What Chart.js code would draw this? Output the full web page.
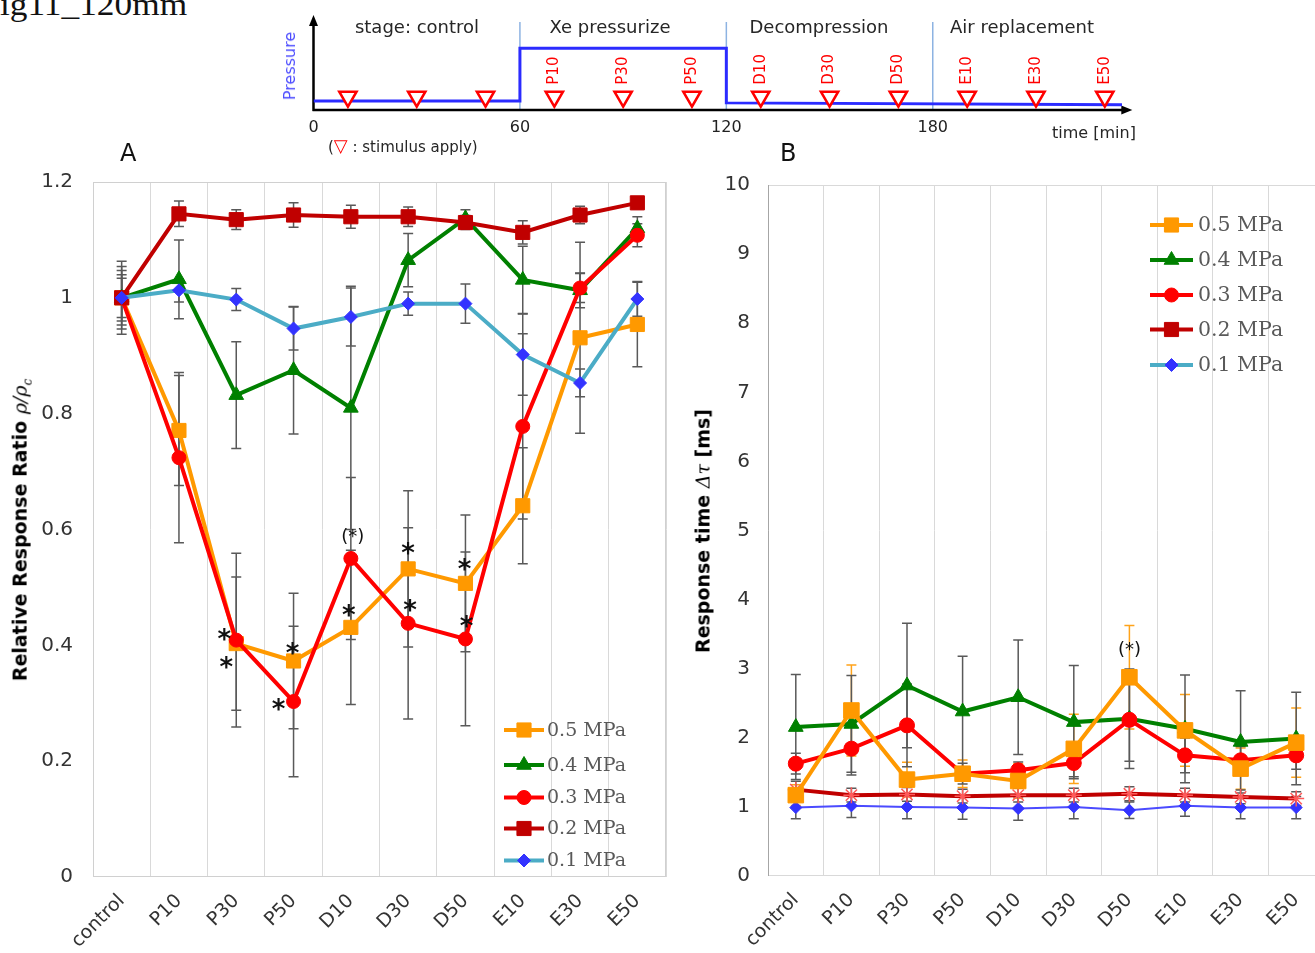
<!DOCTYPE html>
<html>
<head>
<meta charset="utf-8">
<script src="https://cdn.jsdelivr.net/npm/chart.js@4.4.1/dist/chart.umd.min.js"></script>
<style>
  html, body { margin: 0; padding: 0; background: #fff; }
  body { width: 1315px; height: 953px; overflow: hidden; position: relative; font-family: "DejaVu Sans", sans-serif; }
  canvas { position: absolute; }
  .lbl { position: absolute; white-space: nowrap; color: #262626; line-height: 1; }
  .c { transform: translate(-50%, -50%); }
  .rot { transform: translate(-50%, -50%) rotate(-90deg); }
  .ytitle { font-weight: bold; font-size: 19px; color: #000; }
  .m { font-family: "DejaVu Serif", serif; font-style: italic; font-weight: normal; }
</style>
</head>
<body>
<canvas id="stage" width="880" height="160" style="left:280px; top:0;"></canvas>
<canvas id="chartA" width="680" height="803" style="left:0; top:150px;"></canvas>
<canvas id="chartB" width="680" height="798" style="left:660px; top:155px;"></canvas>

<div class="lbl" style="left:0; top:-11px; font-family:'Liberation Serif',serif; font-size:31px; color:#111; transform:scaleX(1.14); transform-origin:0 0;">ig11_120mm</div>
<div class="lbl c" style="left:417px; top:27px; font-size:18px;">stage: control</div>
<div class="lbl c" style="left:610px; top:27px; font-size:18px;">Xe pressurize</div>
<div class="lbl c" style="left:819px; top:27px; font-size:18px;">Decompression</div>
<div class="lbl c" style="left:1022px; top:27px; font-size:18px;">Air replacement</div>
<div class="lbl rot" style="left:290px; top:66px; font-size:16px; color:#4d4dff;">Pressure</div>
<div class="lbl c" style="left:1094px; top:133px; font-size:16px;">time [min]</div>
<div class="lbl" style="left:328px; top:137px; font-size:15px;">(<span style="color:#ff0000; font-size:18px;">▽</span> : stimulus apply)</div>
<div class="lbl" style="left:120px; top:141px; font-size:24px; color:#111;">A</div>
<div class="lbl" style="left:780px; top:141px; font-size:24px; color:#111;">B</div>
<div class="lbl rot ytitle" style="left:22px; top:530px;">Relative Response Ratio <span class="m">ρ/ρ<sub style="font-size:12px;">c</sub></span></div>
<div class="lbl rot ytitle" style="left:703px; top:531px;">Response time <span class="m">Δτ</span> [ms]</div>

<script>
// ---- schematic timeline ----
const stageTimes = [10, 30, 50, 70, 90, 110, 130, 150, 170, 190, 210, 230];
const stageTags = ['', '', '', 'P10', 'P30', 'P50', 'D10', 'D30', 'D50', 'E10', 'E30', 'E50'];
const stimulusLevel = 14;
const pressureTime = [0, 60, 60, 120, 120, 235];
const pressureLevel = [9.5, 9.5, 65, 65, 7.5, 5.5];
const stageBounds = [60, 120, 180];
const timeTicks = [0, 60, 120, 180];

// ---- panels A and B ----
const categories = ['control', 'P10', 'P30', 'P50', 'D10', 'D30', 'D50', 'E10', 'E30', 'E50'];
const seriesNames = ['0.5 MPa', '0.4 MPa', '0.3 MPa', '0.2 MPa', '0.1 MPa'];

// A: relative response ratio
const ratio05 = [1.00, 0.771, 0.403, 0.373, 0.431, 0.532, 0.507, 0.641, 0.931, 0.954];
const ratio04 = [1.00, 1.032, 0.832, 0.875, 0.810, 1.065, 1.137, 1.031, 1.013, 1.120];
const ratio03 = [1.00, 0.724, 0.409, 0.303, 0.550, 0.438, 0.411, 0.778, 1.017, 1.108];
const ratio02 = [1.00, 1.145, 1.135, 1.143, 1.140, 1.140, 1.130, 1.113, 1.143, 1.164];
const ratio01 = [1.00, 1.013, 0.997, 0.947, 0.967, 0.990, 0.990, 0.902, 0.853, 0.998];
const ratio05Err = [0.054, 0.095, 0.115, 0.117, 0.133, 0.135, 0.118, 0.100, 0.165, 0.073];
const ratio04Err = [0.040, 0.068, 0.092, 0.110, 0.210, 0.046, 0.015, 0.058, 0.030, 0.020];
const ratio03Err = [0.063, 0.147, 0.150, 0.130, 0.140, 0.165, 0.150, 0.160, 0.025, 0.020];
const ratio02Err = [0.034, 0.022, 0.017, 0.021, 0.020, 0.017, 0.012, 0.020, 0.015, 0.010];
const ratio01Err = [0.047, 0.020, 0.019, 0.037, 0.050, 0.020, 0.034, 0.070, 0.024, 0.030];
const starCatA = [2, 2, 3, 3, 4, 4, 5, 5, 6, 6];
const starValA = [0.418, 0.369, 0.394, 0.296, 0.587, 0.458, 0.566, 0.467, 0.538, 0.439];
const starTextA = ['*', '*', '*', '*', '(*)', '*', '*', '*', '*', '*'];

// B: response time [ms]
const time05 = [1.17, 2.395, 1.395, 1.48, 1.375, 1.84, 2.876, 2.107, 1.554, 1.93];
const time04 = [2.155, 2.20, 2.756, 2.38, 2.587, 2.227, 2.275, 2.13, 1.94, 1.99];
const time03 = [1.626, 1.843, 2.18, 1.48, 1.53, 1.635, 2.26, 1.746, 1.674, 1.746];
const time02 = [1.25, 1.17, 1.18, 1.155, 1.17, 1.17, 1.19, 1.17, 1.145, 1.12];
const time01 = [0.99, 1.015, 1.0, 0.99, 0.977, 1.0, 0.952, 1.015, 0.99, 0.99];
const time05Err = [0.15, 0.66, 0.25, 0.2, 0.25, 0.5, 0.75, 0.52, 0.3, 0.5];
const time04Err = [0.76, 0.70, 0.90, 0.80, 0.83, 0.82, 0.72, 0.78, 0.74, 0.67];
const time03Err = [0.15, 0.38, 0.60, 0.15, 0.12, 0.2, 0.6, 0.25, 0.2, 0.2];
const time02Err = [0.12, 0.1, 0.1, 0.1, 0.1, 0.1, 0.1, 0.1, 0.1, 0.1];
const time01Err = [0.16, 0.17, 0.17, 0.17, 0.17, 0.17, 0.12, 0.15, 0.16, 0.16];
const starCatB = [6];
const starValB = [3.27];
const starTextB = ['(*)'];

Chart.defaults.font.family = '"DejaVu Sans", sans-serif';

// legend / marker look, same in both panels
const legendStyles = [
    {line: '#ff9900', fill: '#ff9900', shape: 'rect', r: 10},
    {line: '#008000', fill: '#008000', shape: 'triangle', r: 8.5},
    {line: '#ff0000', fill: '#ff0000', shape: 'circle', r: 7},
    {line: '#c00000', fill: '#c00000', shape: 'rect', r: 10},
    {line: '#4bacc6', fill: '#3333ff', shape: 'rectRot', r: 6.5}
];

function drawMarker(ctx, st, x, y) {
    ctx.save();
    ctx.fillStyle = st.fill;
    ctx.strokeStyle = st.fill;
    ctx.lineWidth = 1;
    Chart.helpers.drawPoint(ctx, {pointStyle: st.shape, radius: st.r, rotation: 0, borderWidth: 1}, x, y);
    ctx.restore();
}

const stagePlugin = {
    id: 'stage',
    beforeDatasetsDraw(chart) {
        const {ctx, chartArea: a, scales: {x}} = chart;
        ctx.save();
        // stage separators
        ctx.strokeStyle = '#8db3e2';
        ctx.lineWidth = 1.5;
        stageBounds.forEach(t => {
            const px = x.getPixelForValue(t);
            ctx.beginPath();
            ctx.moveTo(px, a.top + 7);
            ctx.lineTo(px, a.bottom);
            ctx.stroke();
        });
        // axes with arrow heads
        ctx.strokeStyle = '#000';
        ctx.fillStyle = '#000';
        ctx.lineWidth = 2.5;
        ctx.beginPath();
        ctx.moveTo(a.left, a.bottom + 1);
        ctx.lineTo(a.left, a.top + 8);
        ctx.moveTo(a.left - 1, a.bottom);
        ctx.lineTo(a.right - 8, a.bottom);
        ctx.stroke();
        ctx.beginPath();
        ctx.moveTo(a.left, a.top);
        ctx.lineTo(a.left - 4.5, a.top + 11);
        ctx.lineTo(a.left + 4.5, a.top + 11);
        ctx.closePath();
        ctx.fill();
        ctx.beginPath();
        ctx.moveTo(a.right, a.bottom);
        ctx.lineTo(a.right - 11, a.bottom - 4.5);
        ctx.lineTo(a.right - 11, a.bottom + 4.5);
        ctx.closePath();
        ctx.fill();
        ctx.restore();
    },
    afterDatasetsDraw(chart) {
        const {ctx, scales: {x, y}} = chart;
        ctx.save();
        ctx.fillStyle = '#ff0000';
        ctx.font = '15px "DejaVu Sans"';
        ctx.textAlign = 'left';
        ctx.textBaseline = 'middle';
        stageTags.forEach((tag, i) => {
            if (!tag) return;
            const px = x.getPixelForValue(stageTimes[i]);
            const py = y.getPixelForValue(stimulusLevel) - 12;
            ctx.save();
            ctx.translate(px, py);
            ctx.rotate(-Math.PI / 2);
            ctx.fillText(tag, 0, 0);
            ctx.restore();
        });
        ctx.restore();
    }
};

new Chart('stage', {
    type: 'scatter',
    data: {
        datasets: [{
            type: 'line',
            data: pressureTime.map((t, i) => ({x: t, y: pressureLevel[i]})),
            borderColor: '#2b2bff',
            borderWidth: 3,
            pointRadius: 0,
            order: 2
        }, {
            data: stageTimes.map(t => ({x: t, y: stimulusLevel})),
            pointStyle: 'triangle',
            rotation: 180,
            pointRadius: 10,
            borderColor: '#ff0000',
            backgroundColor: '#ffffff',
            borderWidth: 2.5,
            order: 1
        }]
    },
    options: {
        responsive: false,
        animation: false,
        events: [],
        layout: {padding: {left: 33.5, right: 27.7, top: 15, bottom: 0}},
        plugins: {legend: {display: false}, tooltip: {enabled: false}},
        scales: {
            x: {
                type: 'linear', min: 0, max: 238,
                afterBuildTicks: s => { s.ticks = timeTicks.map(v => ({value: v})); },
                afterFit: s => { s.height = 50; },
                grid: {display: false, drawTicks: false},
                border: {display: false},
                ticks: {font: {size: 16}, color: '#222', padding: 8, maxRotation: 0}
            },
            y: {display: false, min: 0, max: 100}
        }
    },
    plugins: [stagePlugin]
});

const panelPlugin = {
    id: 'panel',
    beforeDatasetsDraw(chart, args, o) {
        const {ctx, chartArea: a, scales: {x, y}} = chart;
        ctx.save();
        ctx.lineWidth = 1;
        ctx.strokeStyle = o.frame;
        ctx.strokeRect(a.left + 0.5, a.top + 0.5, a.width - 1, a.height - 1);
        if (o.axis) {
            ctx.strokeStyle = o.axis;
            ctx.beginPath();
            ctx.moveTo(a.left + 0.5, a.top);
            ctx.lineTo(a.left + 0.5, a.bottom);
            ctx.stroke();
        }
        // error bars
        ctx.lineWidth = 1.5;
        chart.data.datasets.forEach(ds => {
            ctx.strokeStyle = ds.errColor;
            ds.data.forEach((v, i) => {
                const px = x.getPixelForValue(i);
                const top = y.getPixelForValue(v + ds.err[i]);
                const bot = y.getPixelForValue(v - ds.err[i]);
                ctx.beginPath();
                ctx.moveTo(px, top);
                ctx.lineTo(px, bot);
                ctx.moveTo(px - 5, top);
                ctx.lineTo(px + 5, top);
                ctx.moveTo(px - 5, bot);
                ctx.lineTo(px + 5, bot);
                ctx.stroke();
            });
        });
        ctx.restore();
    },
    afterDatasetsDraw(chart, args, o) {
        const {ctx, scales: {x, y}} = chart;
        ctx.save();
        ctx.fillStyle = '#111';
        ctx.textAlign = 'center';
        ctx.textBaseline = 'middle';
        o.stars.text.forEach((t, i) => {
            const px = x.getPixelForValue(o.stars.cat[i]) + o.stars.dx[i];
            const py = y.getPixelForValue(o.stars.val[i]);
            if (t === '*') {
                ctx.font = 'bold 26px "DejaVu Sans"';
                ctx.fillText(t, px, py + 6);
            } else {
                ctx.font = '18px "DejaVu Sans"';
                ctx.fillText(t, px, py);
            }
        });
        // legend
        const L = o.legend;
        ctx.textAlign = 'left';
        ctx.font = L.size + 'px "DejaVu Serif"';
        seriesNames.forEach((name, i) => {
            const st = legendStyles[i];
            const ly = L.ys[i];
            ctx.strokeStyle = st.line;
            ctx.lineWidth = 4;
            ctx.beginPath();
            ctx.moveTo(L.x0, ly);
            ctx.lineTo(L.x1, ly);
            ctx.stroke();
            drawMarker(ctx, st, (L.x0 + L.x1) / 2, ly);
            ctx.fillStyle = '#595959';
            ctx.fillText(name, L.xt, ly + 1);
        });
        ctx.restore();
    }
};

function makeSeries(values, errs, st, extra) {
    return Object.assign({
        data: values,
        err: errs,
        errColor: '#595959',
        borderColor: st.line,
        backgroundColor: st.fill,
        pointBackgroundColor: st.fill,
        pointBorderColor: st.fill,
        pointStyle: st.shape,
        pointRadius: st.r,
        pointBorderWidth: 1,
        borderWidth: 4,
        tension: 0
    }, extra || {});
}

// note: chart.js adds the y tick padding to the top of the plot area, canvases are placed for that
function panelOptions(yMax, yStep, leftW, tickPad, padTop, padRight, bottomH, panelOpts) {
    return {
        responsive: false,
        animation: false,
        events: [],
        layout: {padding: {top: padTop, right: padRight, left: 0, bottom: 0}},
        plugins: {legend: {display: false}, tooltip: {enabled: false}, panel: panelOpts},
        scales: {
            x: {
                type: 'category',
                offset: true,
                grid: {display: true, offset: true, color: '#d9d9d9', drawTicks: false},
                border: {display: false},
                ticks: {font: {size: 19}, color: '#333', minRotation: 45, maxRotation: 45, padding: 13, autoSkip: false},
                afterFit: s => { s.height = bottomH; }
            },
            y: {
                min: 0, max: yMax,
                grid: {display: false, drawTicks: false},
                border: {display: false},
                ticks: {
                    stepSize: yStep, font: {size: 20}, color: '#333', padding: tickPad,
                    callback: v => String(Math.round(v * 10) / 10)
                },
                afterFit: s => { s.width = leftW; }
            }
        }
    };
}

// panel A: dataset order puts 0.1 MPa on top, 0.5 MPa at the back
new Chart('chartA', {
    type: 'line',
    data: {
        labels: categories,
        datasets: [
            makeSeries(ratio05, ratio05Err, legendStyles[0], {order: 5}),
            makeSeries(ratio04, ratio04Err, legendStyles[1], {order: 4}),
            makeSeries(ratio03, ratio03Err, legendStyles[2], {order: 3}),
            makeSeries(ratio02, ratio02Err, legendStyles[3], {order: 2}),
            makeSeries(ratio01, ratio01Err, legendStyles[4], {order: 1})
        ]
    },
    options: panelOptions(1.2, 0.2, 93, 20, 30, 14, 76, {
        frame: '#d0d0d0',
        stars: {cat: starCatA, val: starValA, text: starTextA, dx: [-12, -10, -1, -15, 2, -2, 0, 2, -1, 1]},
        legend: {x0: 504, x1: 544, xt: 547, ys: [580, 615, 647.5, 678.5, 710.5], size: 19}
    }),
    plugins: [panelPlugin]
});

// panel B: 0.5 MPa drawn on top
new Chart('chartB', {
    type: 'line',
    data: {
        labels: categories,
        datasets: [
            makeSeries(time05, time05Err, legendStyles[0], {order: 1, pointRadius: 11, errColor: '#ffa31a'}),
            makeSeries(time04, time04Err, legendStyles[1], {order: 3}),
            makeSeries(time03, time03Err, legendStyles[2], {order: 2, pointRadius: 7.5}),
            makeSeries(time02, time02Err, legendStyles[3], {order: 4, pointStyle: 'star', pointRadius: 8, pointBorderColor: '#ff5a5a', pointBorderWidth: 1.5}),
            makeSeries(time01, time01Err, legendStyles[4], {order: 5, borderColor: '#4b4bff', borderWidth: 2, pointRadius: 6})
        ]
    },
    options: panelOptions(10, 1, 108, 18, 28, 16, 77, {
        frame: '#d9d9d9',
        axis: '#a6a6a6',
        stars: {cat: starCatB, val: starValB, text: starTextB, dx: [0]},
        legend: {x0: 490, x1: 533, xt: 538, ys: [70, 105, 140, 174.5, 210], size: 20.5}
    }),
    plugins: [panelPlugin]
});
</script>
</body>
</html>
